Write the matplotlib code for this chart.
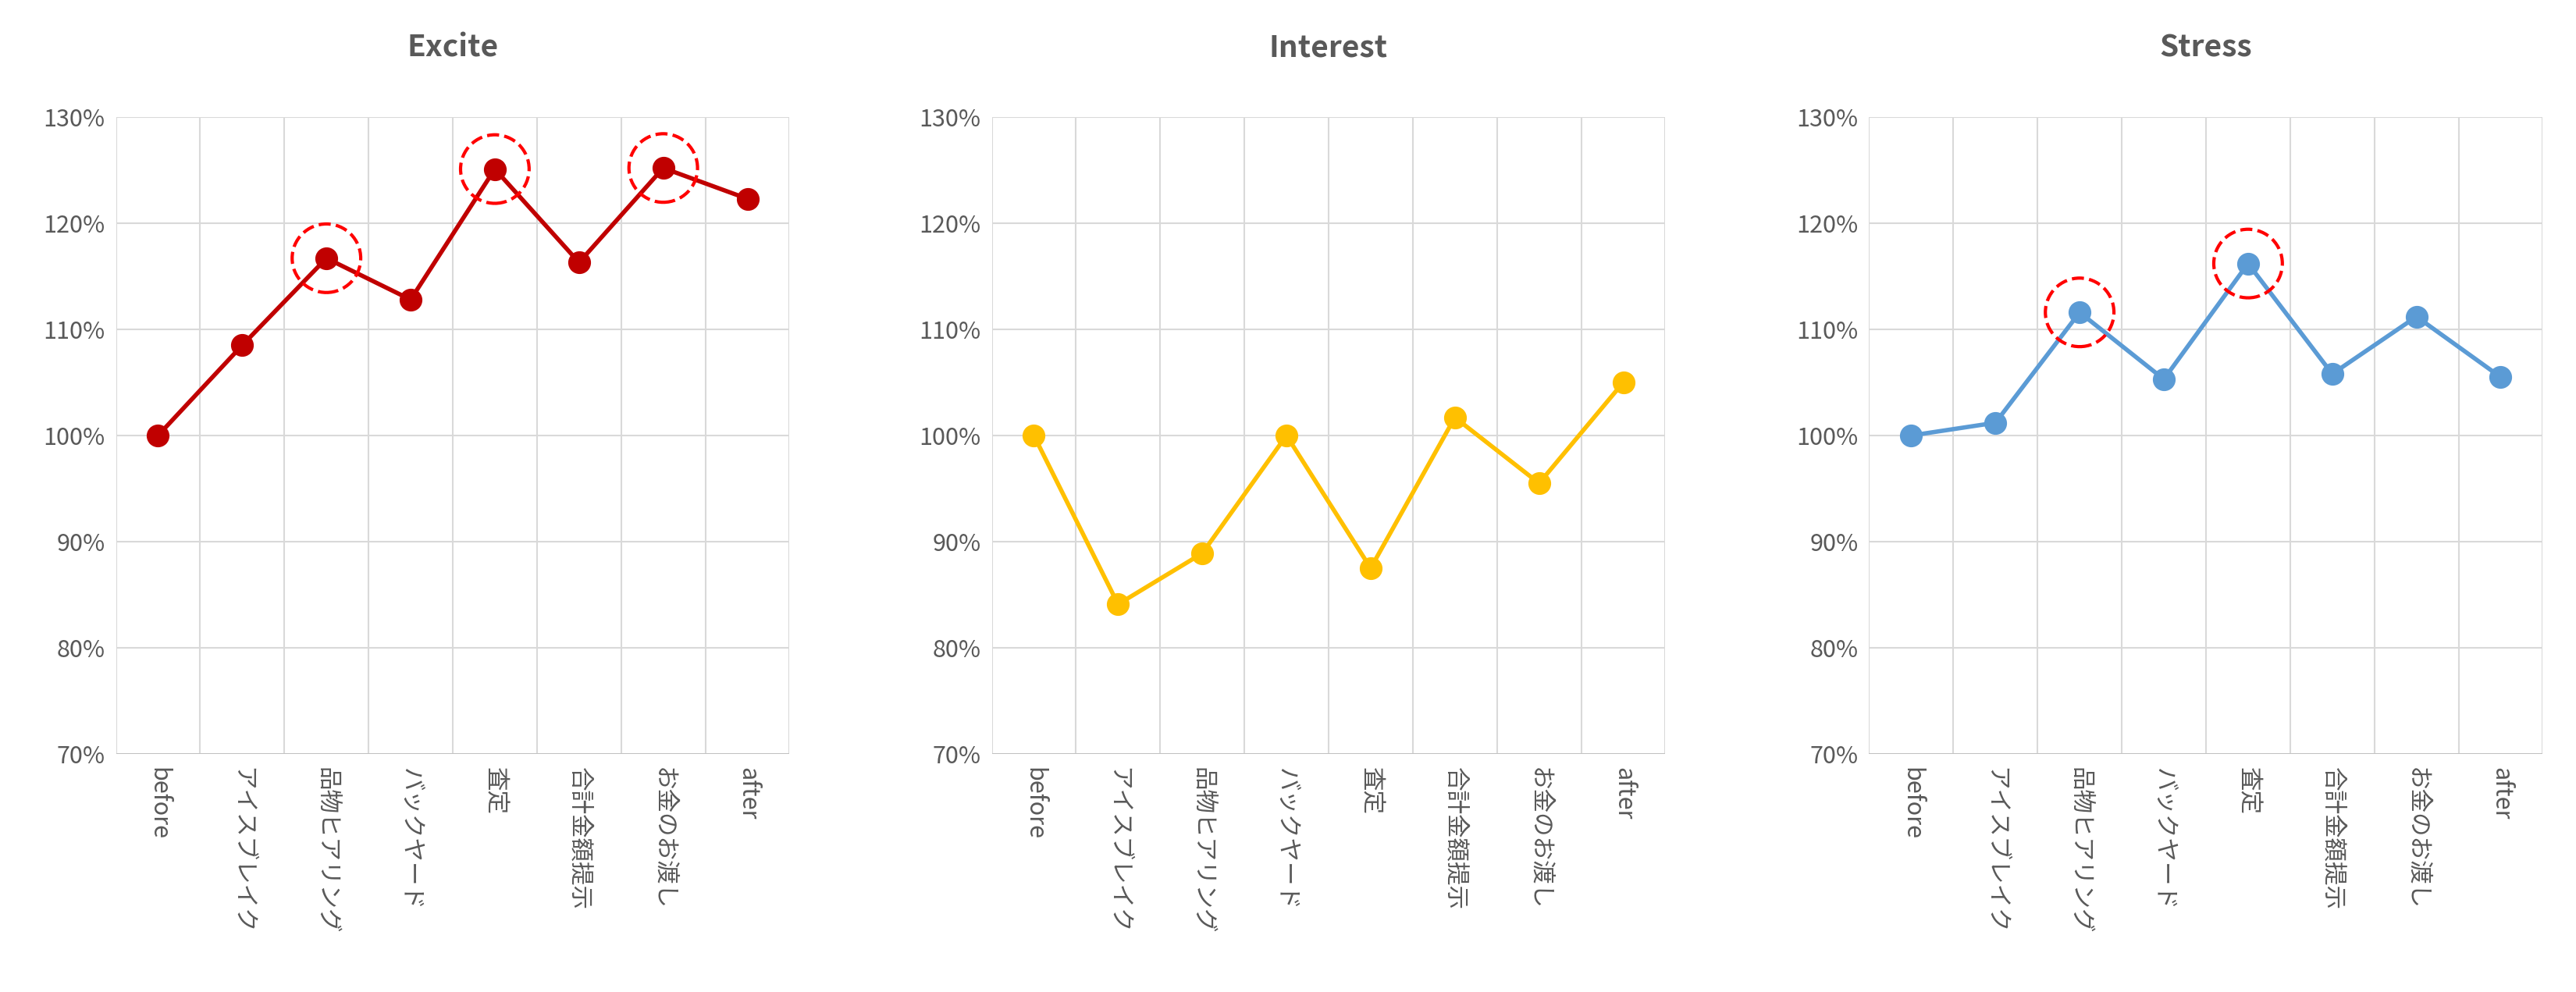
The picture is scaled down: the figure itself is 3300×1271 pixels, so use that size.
import matplotlib.pyplot as plt
from matplotlib.ticker import PercentFormatter

plt.rcParams['font.family'] = ['Noto Sans CJK JP', 'DejaVu Sans']

categories = ["before", "アイスブレイク", "品物ヒアリング", "バックヤード", "査定", "合計金額提示", "お金のお渡し", "after"]
excite = [100, 108.5, 116.7, 112.8, 125.1, 116.3, 125.2, 122.3]
interest = [100, 84.1, 88.9, 100, 87.5, 101.7, 95.5, 105.0]
stress = [100, 101.2, 111.6, 105.3, 116.2, 105.8, 111.2, 105.5]
excite_marks = [2, 4, 6]
stress_marks = [2, 4]

panels = [
    ("Excite", excite, "#C00000", excite_marks),
    ("Interest", interest, "#FFC000", []),
    ("Stress", stress, "#5B9BD5", stress_marks),
]
lefts = [0.045, 0.385, 0.7256]

fig = plt.figure(figsize=(33, 12.71), dpi=100)
x = list(range(len(categories)))
for left, (title, vals, color, marks) in zip(lefts, panels):
    ax = fig.add_axes([left, 0.24, 0.2615, 0.642])
    ax.plot(x, vals, color=color, lw=4, marker='o', ms=20, zorder=3)
    if marks:
        ax.scatter([x[i] for i in marks], [vals[i] for i in marks], s=4000,
                   facecolors='none', edgecolors='#FF0000', linewidths=3,
                   linestyle='--', zorder=4)
    ax.set_xlim(-0.5, len(categories) - 0.5)
    ax.set_ylim(70, 130)
    ax.set_yticks(range(70, 131, 10))
    ax.yaxis.set_major_formatter(PercentFormatter(decimals=0))
    ax.set_xticks([i - 0.5 for i in range(len(categories) + 1)], minor=False)
    ax.set_xticklabels([])
    ax.set_xticks(x, minor=True)
    ax.set_xticklabels(categories, minor=True, rotation=-90, fontsize=22, color='#595959', va='top')
    ax.tick_params(axis='x', which='both', length=0, pad=12)
    ax.tick_params(axis='y', length=0, labelsize=22, labelcolor='#595959', pad=10)
    ax.grid(True, which='major', color='#D9D9D9', lw=1.5)
    for s in ax.spines.values():
        s.set_visible(False)
    ax.axhline(70, color='#BFBFBF', lw=2)
    ax.set_title(title, fontsize=28, fontweight='bold', color='#595959', pad=56)

fig.savefig("out.png", dpi=100)
